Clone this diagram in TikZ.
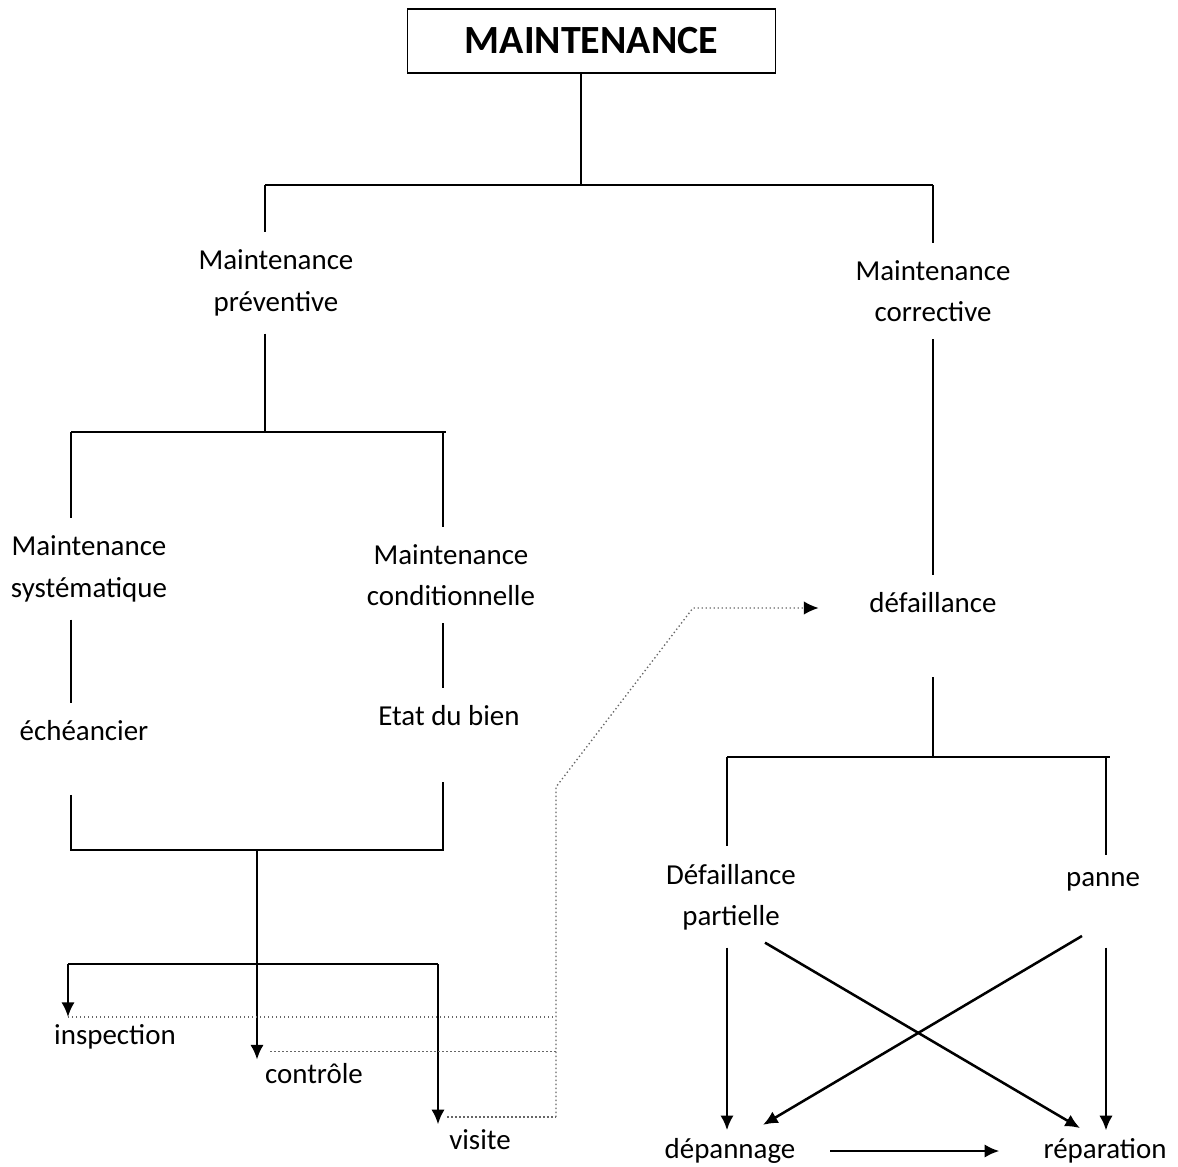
\documentclass[tikz,border=0pt]{standalone}
\usepackage{fontspec}
\setmainfont{Carlito}
\usetikzlibrary{arrows.meta,positioning}

\begin{document}
\begin{tikzpicture}[
    x=0.75pt, y=-0.75pt,
    >={Latex[length=11pt,width=10pt]},
    txt/.style={align=center, inner xsep=0pt, inner ysep=13pt,
                font=\fontsize{21.7}{31}\selectfont},
    tree/.style={line width=1.1pt},
    heavy/.style={line width=1.9pt},
    dotline/.style={dotted, line width=1pt, black!60}
    ]
    \useasboundingbox (0,0) rectangle (1178,1167);

    \node [draw, line width=1pt, minimum width=276pt, minimum height=48pt,
           font=\fontsize{30}{31}\selectfont\bfseries] (maint) at (591.5,41) {MAINTENANCE};

    \node [txt] (prev) at (276,283) {Maintenance\\préventive};
    \node [txt] (corr) at (933,291) {Maintenance\\corrective};
    \node [txt] (syst) at (89,569) {Maintenance\\systématique};
    \node [txt] (cond) at (451,575) {Maintenance\\conditionnelle};
    \node [txt] (ech) at (84,731) {échéancier};
    \node [txt] (etat) at (449,716) {Etat du bien};
    \node [txt] (def) at (933,603) {défaillance};
    \node [txt] (defp) at (731,897) {Défaillance\\partielle};
    \node [txt] (panne) at (1103,882) {panne};
    \node [txt] (dep) at (730,1151) {dépannage};
    \node [txt] (rep) at (1105,1151) {réparation};
    \node [txt] (insp) at (115,1037) {inspection};
    \node [txt] (ctrl) at (314,1074) {contrôle};
    \node [txt] (vis) at (480,1140) {visite};

    % junctions
    \coordinate (j0) at (581,185);
    \coordinate (j0l) at (265,185);
    \coordinate (j0r) at (933,185);
    \coordinate (j1) at (265,432);
    \coordinate (j1l) at (71,432);
    \coordinate (j1r) at (443,432);
    \coordinate (j2l) at (71,850);
    \coordinate (j2r) at (443,850);
    \coordinate (j2m) at (257,850);
    \coordinate (j3l) at (68,964);
    \coordinate (j3r) at (438,964);
    \coordinate (j4) at (933,757);
    \coordinate (j4l) at (727,757);
    \coordinate (j4r) at (1106,757);
    \coordinate (d0) at (556,1117);
    \coordinate (d1) at (556,787);
    \coordinate (d2) at (693,608);

    % upper tree
    \draw[tree] (maint.south -| j0) -- (j0);
    \draw[tree] (j0l) -- (j0r);
    \draw[tree] (j0l) -- (j0l |- prev.north);
    \draw[tree] (j0r) -- (corr);
    \draw[tree] (corr) -- (def);
    \draw[tree] (prev.south -| j1) -- (j1);

    % preventive branch
    \draw[tree] (j1l) -- ([xshift=2pt]j1r);
    \draw[tree] (j1l) -- (j1l |- syst.north);
    \draw[tree] (j1r) -- (j1r |- cond.north);
    \draw[tree] (syst.south -| j1l) -- (ech.north -| j1l);
    \draw[tree] (cond.south -| j1r) -- (etat.north -| j1r);
    \draw[tree, shorten <=27pt, shorten >=29pt] (ech.south -| j2l) -- (j2l) -- (j2r) -- (etat.south -| j2r);

    \draw[heavy, ->, shorten >=-10pt] (j2m) -- (j2m |- ctrl.north);
    \draw[tree] (j3l) -- (j3r);
    \draw[heavy, ->, shorten >=-7.5pt] (j3l) -- (j3l |- insp.north);
    \draw[heavy, ->, shorten >=-9pt] (j3r) -- (j3r |- vis.north);

    % dotted links
    \draw[dotline] ([yshift=-7.5pt]insp.north -| j3l) -- ([yshift=-7.5pt]insp.north -| d0);
    \draw[dotline, shorten <=10pt] ([yshift=-4pt]ctrl.north -| j2m) -- ([yshift=-4pt]ctrl.north -| d0);
    \draw[dotline, shorten <=7pt] (d0 -| j3r) -- (d0);
    \draw[dotline, -{Latex[length=11pt,width=10pt,black]}, shorten >=38pt] (d0) -- (d1) -- (d2) -- (d2 -| def.west);

    % corrective branch
    \draw[tree, shorten <=35pt] (def) -- (j4);
    \draw[tree] (j4l) -- ([xshift=3pt]j4r);
    \draw[heavy] (j4l) -- (j4l |- defp.north);
    \draw[heavy] (j4r) -- (j4r |- panne.north);

    \draw[heavy, ->, shorten >=-7pt] (defp.south -| j4l) -- (dep.north -| j4l);
    \draw[heavy, ->] ([shift={(34,-5)}]defp.south) -- ([shift={(-25,7)}]rep.north);
    \draw[heavy, ->] ([shift={(-21,27)}]panne.south) -- ([shift={(33,4)}]dep.north);
    \draw[heavy, ->, shorten <=29pt, shorten >=-7pt] (panne.south -| j4r) -- (rep.north -| j4r);
    \draw[heavy, ->, shorten <=26pt, shorten >=33pt] (dep) -- (rep);
\end{tikzpicture}
\end{document}
